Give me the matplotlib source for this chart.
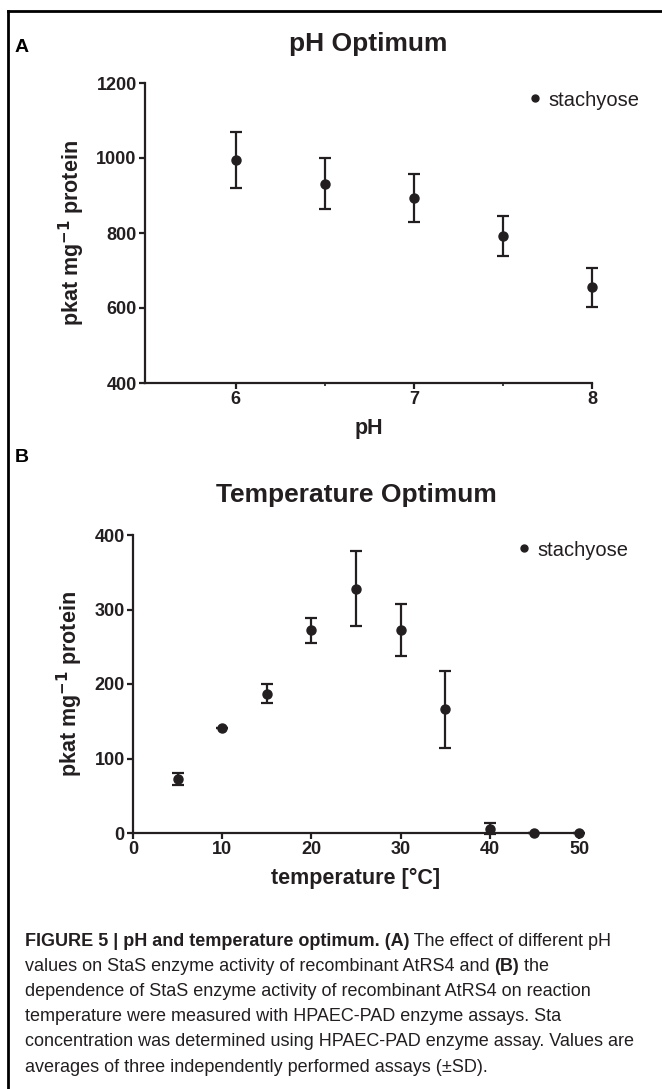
import matplotlib
matplotlib.use('Agg')
import matplotlib.pyplot as plt
from matplotlib.lines import Line2D

# Panel A: pH optimum
ph = [6, 6.5, 7, 7.5, 8]
ph_act = [995, 932, 893, 792, 656]
ph_sd = [75, 67, 64, 53, 52]

# Panel B: temperature optimum
temp = [5, 10, 15, 20, 25, 30, 35, 40, 45, 50]
temp_act = [73, 141, 187, 272, 328, 272, 166, 6, 0, 0]
temp_sd = [8, 0, 13, 17, 50, 35, 52, 7, 0, 0]

caption_lines = [
    [('FIGURE 5 | pH and temperature optimum. (A)', 'bold'), (' The effect of different pH', 'normal')],
    [('values on StaS enzyme activity of recombinant AtRS4 and ', 'normal'), ('(B)', 'bold'), (' the', 'normal')],
    [('dependence of StaS enzyme activity of recombinant AtRS4 on reaction', 'normal')],
    [('temperature were measured with HPAEC-PAD enzyme assays. Sta', 'normal')],
    [('concentration was determined using HPAEC-PAD enzyme assay. Values are', 'normal')],
    [('averages of three independently performed assays (\u00b1SD).', 'normal')],
]

INK = '#231f20'
plt.rcParams['font.family'] = ['Liberation Sans', 'DejaVu Sans']

W, H = 662, 1089
fig = plt.figure(figsize=(W / 100, H / 100), dpi=100)


def px_box(left, top, right, bottom):
    return [left / W, 1 - bottom / H, (right - left) / W, (bottom - top) / H]


def style_axes(ax):
    for s in ['top', 'right']:
        ax.spines[s].set_visible(False)
    for s in ['left', 'bottom']:
        ax.spines[s].set_linewidth(1.6)
        ax.spines[s].set_color(INK)
    ax.tick_params(which='major', direction='out', length=4, width=1.6, color=INK,
                   labelsize=13, labelcolor=INK, pad=2)
    ax.tick_params(which='minor', direction='out', length=2, width=1.2, color=INK)
    for lab in ax.get_xticklabels() + ax.get_yticklabels():
        lab.set_fontweight('bold')


def add_legend(ax, right_px, y_px):
    h = Line2D([], [], marker='o', ls='none', color=INK, markersize=5)
    ax.legend([h], ['stachyose'], loc='center right', frameon=False, fontsize=14.5,
              handlelength=0.5, handletextpad=0.4, borderaxespad=0, borderpad=0,
              labelcolor=INK, bbox_to_anchor=(right_px / W, 1 - y_px / H),
              bbox_transform=fig.transFigure)


# ---- panel A
axA = fig.add_axes(px_box(145, 83, 592, 383))
axA.errorbar(ph, ph_act, yerr=ph_sd, fmt='o', color=INK, markersize=6.5,
             elinewidth=1.6, capsize=4.5, capthick=1.6, clip_on=False)
axA.set_xlim(5.49, 8.0)
axA.set_ylim(400, 1200)
axA.set_xticks([6, 7, 8])
axA.set_xticks([6.5, 7.5], minor=True)
axA.set_yticks([400, 600, 800, 1000, 1200])
axA.set_xlabel('pH', fontsize=15.5, fontweight='bold', color=INK, labelpad=7)
axA.set_ylabel('pkat mg$^{\\mathbf{-1}}$ protein', fontsize=15.5, fontweight='bold', color=INK, labelpad=7)
axA.set_title('pH Optimum', fontsize=19, fontweight='bold', color=INK, pad=23)
style_axes(axA)
add_legend(axA, 639, 100)

# ---- panel B
axB = fig.add_axes(px_box(133, 535, 579, 833))
axB.errorbar(temp, temp_act, yerr=temp_sd, fmt='o', color=INK, markersize=6.5,
             elinewidth=1.6, capsize=4.5, capthick=1.6, clip_on=False)
axB.set_xlim(0, 50)
axB.set_ylim(0, 400)
axB.set_xticks([0, 10, 20, 30, 40, 50])
axB.set_yticks([0, 100, 200, 300, 400])
axB.set_xlabel('temperature [\u00b0C]', fontsize=15.5, fontweight='bold', color=INK, labelpad=7)
axB.set_ylabel('pkat mg$^{\\mathbf{-1}}$ protein', fontsize=15.5, fontweight='bold', color=INK, labelpad=7)
axB.set_title('Temperature Optimum', fontsize=19, fontweight='bold', color=INK, pad=23.5)
style_axes(axB)
add_legend(axB, 628, 550)

# panel letters
fig.text(15 / W, 1 - 47 / H, 'A', fontsize=14, fontweight='bold', color='black', va='center')
fig.text(15 / W, 1 - 458 / H, 'B', fontsize=14, fontweight='bold', color='black', va='center')

# frame (left and top edges only visible)
fig.add_artist(Line2D([8 / W, 8 / W], [0, 1 - 11 / H], color='black', lw=2))
fig.add_artist(Line2D([8 / W, 1], [1 - 11 / H, 1 - 11 / H], color='black', lw=2))

# caption with mixed bold / normal runs
renderer = fig.canvas.get_renderer()
y = 941
for parts in caption_lines:
    x = 25 / W
    for txt, weight in parts:
        t = fig.text(x, 1 - y / H, txt, fontsize=13, fontweight=weight,
                     color=INK, va='center')
        x += t.get_window_extent(renderer).width / fig.bbox.width
    y += 25.2

fig.savefig('out.png', dpi=100)
